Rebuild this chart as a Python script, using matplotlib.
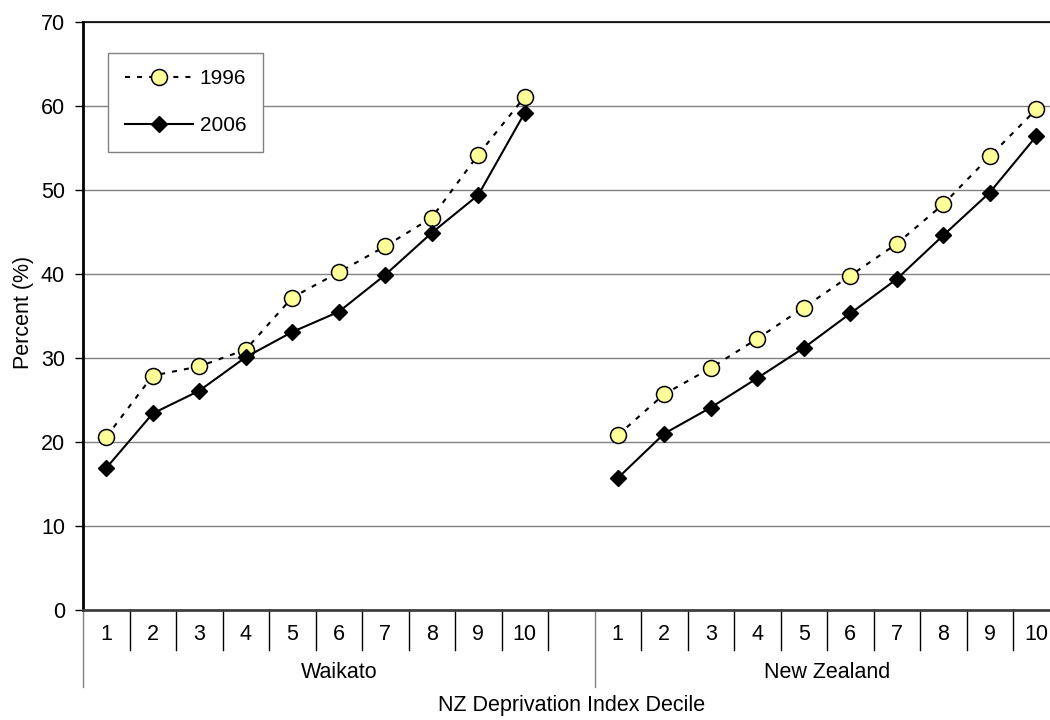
import numpy as np
import matplotlib
matplotlib.use("Agg")
import matplotlib.pyplot as plt
import matplotlib.transforms as mtransforms

plt.rcParams["font.family"] = ["Liberation Sans", "DejaVu Sans"]

deciles = ["1", "2", "3", "4", "5", "6", "7", "8", "9", "10"]
regions = ["Waikato", "New Zealand"]

waikato_1996 = [20.6, 27.9, 29.0, 31.0, 37.2, 40.2, 43.3, 46.7, 54.2, 61.1]
waikato_2006 = [16.9, 23.4, 26.1, 30.1, 33.1, 35.5, 39.9, 44.9, 49.4, 59.2]
nz_1996 = [20.8, 25.7, 28.8, 32.3, 36.0, 39.8, 43.6, 48.3, 54.0, 59.6]
nz_2006 = [15.7, 21.0, 24.1, 27.6, 31.2, 35.3, 39.4, 44.6, 49.7, 56.4]

FS = 15.5

fig = plt.figure(figsize=(10.5, 7.2), dpi=100)
# axes runs slightly past the right edge of the figure
ax = fig.add_axes([83 / 1050, 110 / 720, 976.5 / 1050, 588 / 720])

# Waikato takes slots 0-9, slot 10 is empty, New Zealand takes 11-20
x_wk = np.arange(10)
x_nz = np.arange(11, 21)

style_96 = dict(color="black", lw=1.5, linestyle=(0, (2.4, 3.4)), marker="o",
                ms=11.5, mfc="#FFFF99", mec="black", mew=1.1)
style_06 = dict(color="black", lw=1.5, linestyle="-", marker="D",
                ms=7.8, mfc="black", mec="black")

ax.plot(x_wk, waikato_1996, label="1996", **style_96)
ax.plot(x_wk, waikato_2006, label="2006", **style_06)
ax.plot(x_nz, nz_1996, **style_96)
ax.plot(x_nz, nz_2006, **style_06)

ax.set_xlim(-0.5, 20.5)
ax.set_ylim(0, 70)
ax.set_yticks(range(0, 71, 10))
ax.yaxis.grid(True, color="#808080", lw=1)
ax.set_axisbelow(True)
ax.tick_params(axis="y", length=6, width=1, labelsize=FS, pad=7)
ax.set_xticks([])

ax.spines["right"].set_visible(False)
ax.spines["top"].set_linewidth(1.2)
ax.spines["top"].set_color("black")
ax.spines["left"].set_linewidth(2)
ax.spines["left"].set_color("black")
ax.spines["bottom"].set_linewidth(2)
ax.spines["bottom"].set_color("#404040")

trans = mtransforms.blended_transform_factory(ax.transData, ax.transAxes)

# decile labels and category separators
for xs in (x_wk, x_nz):
    for x, lab in zip(xs, deciles):
        ax.text(x, -25 / 588, lab, transform=trans, ha="center", va="center",
                fontsize=FS)

group_edges = [-0.5, 10.5]
for b in np.arange(-0.5, 21, 1.0):
    y_end = -77 / 588 if b in group_edges else -40 / 588
    col = "#808080" if b in group_edges else "black"
    ax.plot([b, b], [0, y_end], transform=trans, color=col, lw=1,
            clip_on=False)

# region labels centred over their slot ranges
ax.text(np.mean([-0.5, 10.5]), -62 / 588, regions[0], transform=trans,
        ha="center", va="center", fontsize=FS)
ax.text(np.mean([10.5, 20.5]), -62 / 588, regions[1], transform=trans,
        ha="center", va="center", fontsize=FS)

ax.text(0.5, -95 / 588, "NZ Deprivation Index Decile", transform=ax.transAxes,
        ha="center", va="center", fontsize=FS)
fig.text(23 / 1050, 1 - 312 / 720, "Percent (%)", rotation=90,
         ha="center", va="center", fontsize=FS)

leg = ax.legend(loc="upper left", bbox_to_anchor=(0.0256, 0.948),
                borderaxespad=0, fontsize=15, handlelength=3.3,
                handletextpad=0.3, labelspacing=1.35, borderpad=0.8,
                fancybox=False, framealpha=1)
leg.get_frame().set_edgecolor("#808080")
leg.get_frame().set_linewidth(1)

fig.savefig("out.png", dpi=100)
